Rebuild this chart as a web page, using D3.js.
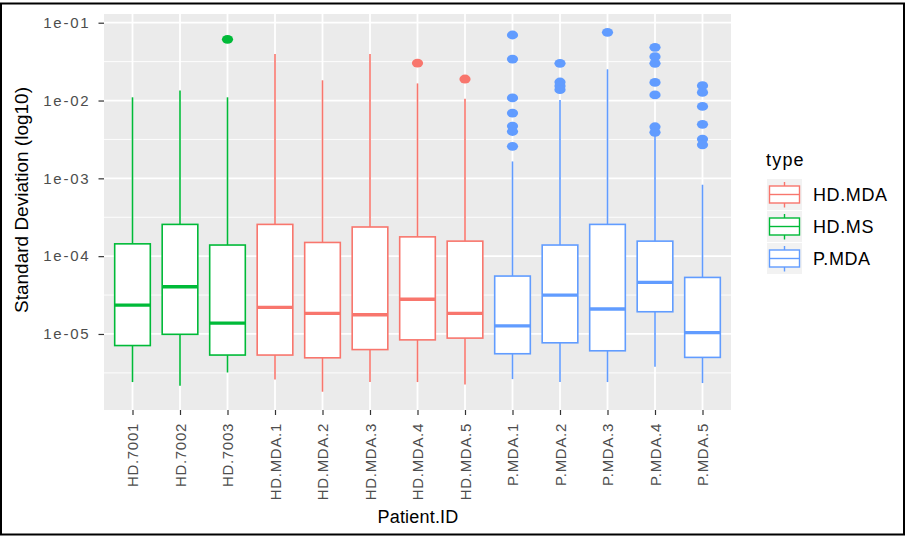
<!DOCTYPE html>
<html>
<head>
<meta charset="utf-8">
<script src="https://cdn.jsdelivr.net/npm/d3@7"></script>
<style>
  html, body { margin: 0; padding: 0; background: #fff; }
  svg { display: block; font-family: "Liberation Sans", Arial, sans-serif; }
</style>
</head>
<body>
<svg id="chart" width="906" height="537"></svg>
<script>
// ---------------- data ----------------
const categories = ["HD.7001","HD.7002","HD.7003","HD.MDA.1","HD.MDA.2","HD.MDA.3","HD.MDA.4","HD.MDA.5","P.MDA.1","P.MDA.2","P.MDA.3","P.MDA.4","P.MDA.5"];
const types = ["HD.MS","HD.MS","HD.MS","HD.MDA","HD.MDA","HD.MDA","HD.MDA","HD.MDA","P.MDA","P.MDA","P.MDA","P.MDA","P.MDA"];
const whiskerLow  = [2.41e-6, 2.16e-6, 3.2e-6, 2.6e-6, 1.81e-6, 2.41e-6, 2.41e-6, 2.25e-6, 2.63e-6, 2.41e-6, 2.41e-6, 3.79e-6, 2.34e-6];
const q1          = [7.1e-6, 9.9e-6, 5.36e-6, 5.36e-6, 4.94e-6, 6.3e-6, 8.4e-6, 8.85e-6, 5.57e-6, 7.7e-6, 6.08e-6, 1.93e-5, 5.0e-6];
const medians     = [2.35e-5, 4.05e-5, 1.38e-5, 2.2e-5, 1.84e-5, 1.77e-5, 2.79e-5, 1.84e-5, 1.27e-5, 3.16e-5, 2.09e-5, 4.6e-5, 1.04e-5];
const q3          = [1.44e-4, 2.56e-4, 1.39e-4, 2.56e-4, 1.5e-4, 2.37e-4, 1.77e-4, 1.56e-4, 5.55e-5, 1.39e-4, 2.56e-4, 1.56e-4, 5.33e-5];
const whiskerHigh = [0.011, 0.0135, 0.011, 0.0396, 0.0182, 0.0396, 0.0166, 0.01055, 1.65e-3, 0.01015, 0.0252, 3.5e-3, 8.28e-4];
const outliers = [
  [], [], [0.0612], [], [], [], [0.0303], [0.0189],
  [0.0695, 0.0341, 0.0108, 0.0069, 0.0047, 0.0040, 0.00258],
  [0.0301, 0.0173, 0.0154, 0.0138],
  [0.0752],
  [0.0483, 0.0366, 0.0301, 0.0171, 0.0118, 0.0046, 0.0039],
  [0.0155, 0.0127, 0.0084, 0.00494, 0.0032, 0.0027]
];
const typeNames = ["HD.MDA","HD.MS","P.MDA"];
const typeColors = ["#F8766D","#00BA38","#619CFF"];
const yTicks = [1e-5, 1e-4, 1e-3, 1e-2, 1e-1];
const yTickLabels = ["1e-05","1e-04","1e-03","1e-02","1e-01"];
const yMinor = [Math.pow(10,-5.5), Math.pow(10,-4.5), Math.pow(10,-3.5), Math.pow(10,-2.5), Math.pow(10,-1.5)];

// ---------------- layout ----------------
const svg = d3.select("#chart");
const P = {left: 104, right: 731, top: 14, bottom: 410};
const color = d3.scaleOrdinal().domain(typeNames).range(typeColors);

const x = d3.scalePoint().domain(categories).range([P.left, P.right]).padding(0.6);
const y = d3.scaleLog().domain([Math.pow(10,-5.977), Math.pow(10,-0.888)]).range([P.bottom, P.top]);
const boxW = x.step() * 0.75;

// outer border
svg.append("rect").attr("x", 1).attr("y", 3.5).attr("width", 903).attr("height", 531)
  .attr("fill", "none").attr("stroke", "#000").attr("stroke-width", 2);

// panel
svg.append("rect").attr("x", P.left).attr("y", P.top)
  .attr("width", P.right - P.left).attr("height", P.bottom - P.top).attr("fill", "#EBEBEB");

const grid = svg.append("g");
grid.selectAll(".ymin").data(yMinor).join("line")
  .attr("x1", P.left).attr("x2", P.right)
  .attr("y1", d => y(d)).attr("y2", d => y(d))
  .attr("stroke", "#fff").attr("stroke-width", 0.9);
grid.selectAll(".ymaj").data(yTicks).join("line")
  .attr("x1", P.left).attr("x2", P.right)
  .attr("y1", d => y(d)).attr("y2", d => y(d))
  .attr("stroke", "#fff").attr("stroke-width", 1.8);
grid.selectAll(".xmaj").data(categories).join("line")
  .attr("x1", d => x(d)).attr("x2", d => x(d))
  .attr("y1", P.top).attr("y2", P.bottom)
  .attr("stroke", "#fff").attr("stroke-width", 1.8);

// boxplots
const rows = categories.map((c, i) => ({
  cat: c, type: types[i], lo: whiskerLow[i], q1: q1[i], med: medians[i], q3: q3[i], hi: whiskerHigh[i], out: outliers[i]
}));
const g = svg.append("g");
rows.forEach(r => {
  const cx = x(r.cat), col = color(r.type);
  const b = g.append("g");
  b.append("line").attr("x1", cx).attr("x2", cx).attr("y1", y(r.q3)).attr("y2", y(r.hi))
    .attr("stroke", col).attr("stroke-width", 1.6);
  b.append("line").attr("x1", cx).attr("x2", cx).attr("y1", y(r.q1)).attr("y2", y(r.lo))
    .attr("stroke", col).attr("stroke-width", 1.6);
  b.append("rect").attr("x", cx - boxW / 2).attr("width", boxW)
    .attr("y", y(r.q3)).attr("height", y(r.q1) - y(r.q3))
    .attr("fill", "#fff").attr("stroke", col).attr("stroke-width", 1.6);
  b.append("line").attr("x1", cx - boxW / 2).attr("x2", cx + boxW / 2)
    .attr("y1", y(r.med)).attr("y2", y(r.med))
    .attr("stroke", col).attr("stroke-width", 3.4);
  b.selectAll("ellipse").data(r.out).join("ellipse")
    .attr("cx", cx).attr("cy", d => y(d)).attr("rx", 5.6).attr("ry", 4.4)
    .attr("fill", col);
});

// y axis
const yAxis = svg.append("g").attr("transform", `translate(${P.left},0)`)
  .call(d3.axisLeft(y).tickValues(yTicks).tickSize(5.5).tickPadding(8)
    .tickFormat((d, i) => yTickLabels[i]));
yAxis.select(".domain").remove();
yAxis.selectAll(".tick line").attr("stroke", "#333").attr("stroke-width", 1.2);
yAxis.selectAll(".tick text").attr("fill", "#4D4D4D").attr("font-size", 15)
  .style("letter-spacing", "1.8px").attr("font-family", "Liberation Sans, Arial, sans-serif");

// x axis
const xAxis = svg.append("g").attr("transform", `translate(0,${P.bottom})`)
  .call(d3.axisBottom(x).tickSize(5).tickPadding(0));
xAxis.select(".domain").remove();
xAxis.selectAll(".tick line").attr("stroke", "#333").attr("stroke-width", 1.2);
xAxis.selectAll(".tick text")
  .attr("fill", "#4D4D4D").attr("font-size", 15)
  .attr("font-family", "Liberation Sans, Arial, sans-serif")
  .style("letter-spacing", "0.7px")
  .attr("text-anchor", "end")
  .attr("transform", "translate(0,13) rotate(-90)")
  .attr("x", 0).attr("y", 0).attr("dy", "0.36em");

// axis titles
svg.append("text").attr("x", 418).attr("y", 523).attr("text-anchor", "middle")
  .attr("font-size", 18).attr("fill", "#000").style("letter-spacing", "0.2px").text("Patient.ID");
svg.append("text").attr("transform", "translate(28,200) rotate(-90)").attr("text-anchor", "middle")
  .attr("font-size", 19).attr("fill", "#000").text("Standard Deviation (log10)");

// legend
const lg = svg.append("g");
lg.append("text").attr("x", 766).attr("y", 166).attr("font-size", 18)
  .style("letter-spacing", "1.2px").attr("fill", "#000").text("type");
typeNames.forEach((t, i) => {
  const y0 = 179 + i * 32, kx = 767, kw = 35, kh = 31, cy = y0 + 15.5, col = typeColors[i];
  const k = lg.append("g");
  k.append("rect").attr("x", kx).attr("y", y0).attr("width", kw).attr("height", kh).attr("fill", "#F2F2F2");
  k.append("line").attr("x1", kx + kw / 2).attr("x2", kx + kw / 2).attr("y1", cy - 12.5).attr("y2", cy + 13)
    .attr("stroke", col).attr("stroke-width", 1.4);
  k.append("rect").attr("x", kx + 2.5).attr("y", cy - 8.5).attr("width", kw - 5).attr("height", 17)
    .attr("fill", "#fff").attr("stroke", col).attr("stroke-width", 1.4);
  k.append("line").attr("x1", kx + 2.5).attr("x2", kx + kw - 2.5).attr("y1", cy).attr("y2", cy)
    .attr("stroke", col).attr("stroke-width", 1.4);
  lg.append("text").attr("x", 813).attr("y", cy).attr("dy", "0.36em").attr("font-size", 18)
    .style("letter-spacing", "0.6px").attr("fill", "#000").text(t);
});
</script>
</body>
</html>
